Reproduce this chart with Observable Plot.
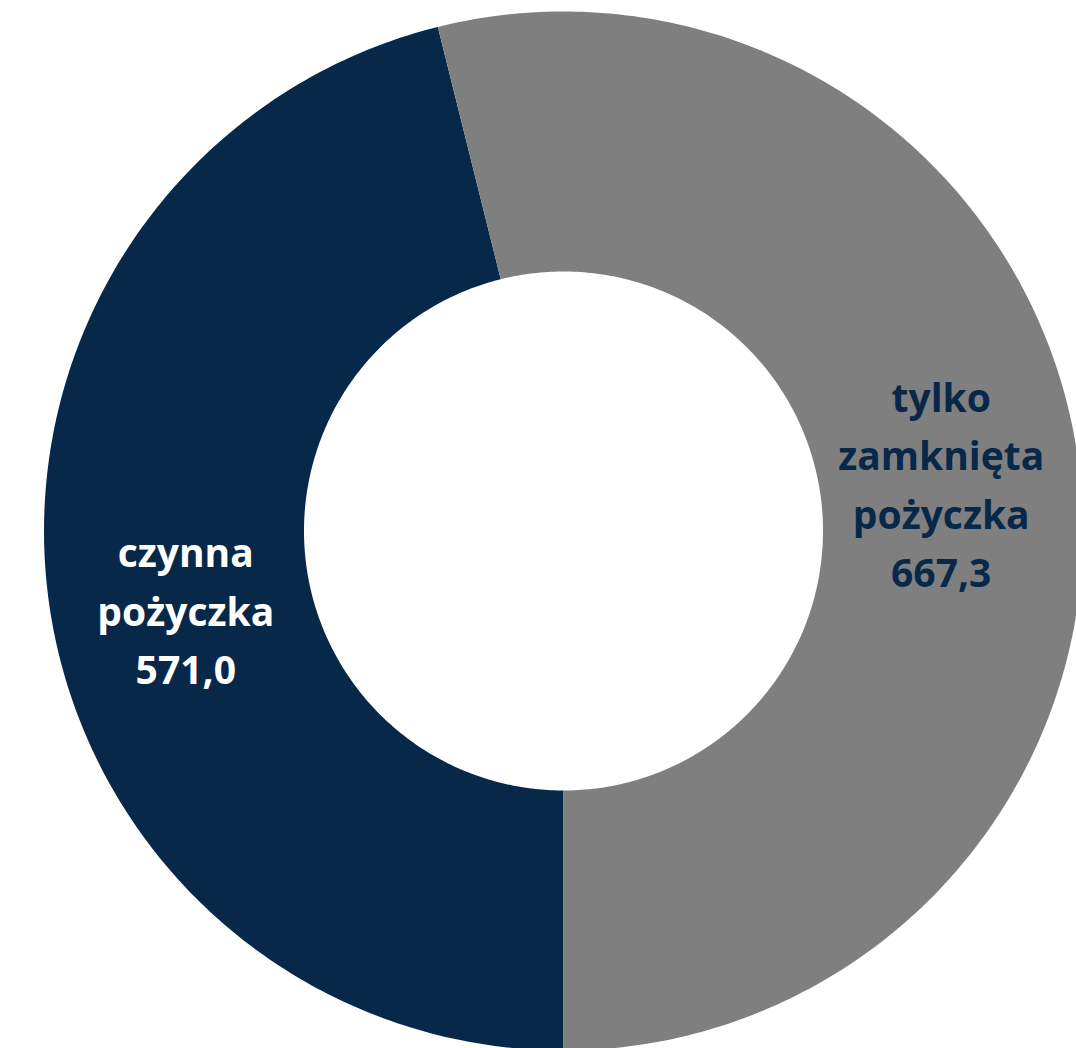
<!DOCTYPE html>
<html>
<head>
<meta charset="utf-8">
<script src="https://cdn.jsdelivr.net/npm/d3@7"></script>
<script src="https://cdn.jsdelivr.net/npm/@observablehq/plot@0.6"></script>
<style>
  html, body { margin: 0; padding: 0; background: #ffffff; }
  #chart svg { display: block; }
</style>
</head>
<body>
<div id="chart"></div>
<script>
// ---- data ----
const categories = ["czynna pożyczka", "tylko zamknięta pożyczka"];
const values = [571.0, 667.3];
const labelLines = [["czynna", "pożyczka"], ["tylko", "zamknięta", "pożyczka"]];
const sliceColors = ["#08284A", "#7F7F7F"];
const labelColors = ["#FFFFFF", "#08284A"];

// ---- geometry (unit radius) ----
const W = 1076, H = 1048;
const cx = 563, cy = 530.5, R = 519.5;
const innerRatio = 259.5 / 519.5;

const fmt = d3.formatLocale({decimal: ",", thousands: "\u00a0", grouping: [3], currency: ["", " zł"]}).format(".1f");

const arcs = d3.pie().sort(null).startAngle(Math.PI).endAngle(3 * Math.PI)(values);

const pts = [];
arcs.forEach((a, i) => {
  const n = 240;
  for (let k = 0; k <= n; k++) {
    const t = a.startAngle + (a.endAngle - a.startAngle) * k / n;
    pts.push({cat: categories[i], x: Math.sin(t), y: Math.cos(t)});
  }
  for (let k = n; k >= 0; k--) {
    const t = a.startAngle + (a.endAngle - a.startAngle) * k / n;
    pts.push({cat: categories[i], x: innerRatio * Math.sin(t), y: innerRatio * Math.cos(t)});
  }
});

const labelR = (1 + innerRatio) / 2 * 0.99;
const labels = arcs.map((a, i) => {
  const m = (a.startAngle + a.endAngle) / 2;
  return {
    cat: categories[i],
    x: labelR * Math.sin(m),
    y: labelR * Math.cos(m),
    text: [...labelLines[i], fmt(values[i])].join("\n"),
    color: labelColors[i]
  };
});

const textOpts = {
  x: "x", y: "y", text: "text", fill: "color",
  fontSize: 39, fontWeight: "bold", fontFamily: "'Open Sans', sans-serif",
  lineHeight: 1.5, textAnchor: "middle"
};

const chart = Plot.plot({
  width: W,
  height: H,
  margin: 0,
  x: {domain: [-cx / R, (W - cx) / R], range: [0, W], axis: null},
  y: {domain: [-(H - cy) / R, cy / R], range: [H, 0], axis: null},
  color: {domain: categories, range: sliceColors},
  style: {background: "#ffffff"},
  marks: [
    Plot.line(pts, {x: "x", y: "y", z: "cat", fill: "cat", stroke: "none", curve: "linear"}),
    Plot.text(labels.filter((d, i) => i === 0), {...textOpts, dx: 5, dy: 29}),
    Plot.text(labels.filter((d, i) => i === 1), {...textOpts, dx: -5, dy: -3})
  ]
});

document.getElementById("chart").appendChild(chart);
</script>
</body>
</html>
